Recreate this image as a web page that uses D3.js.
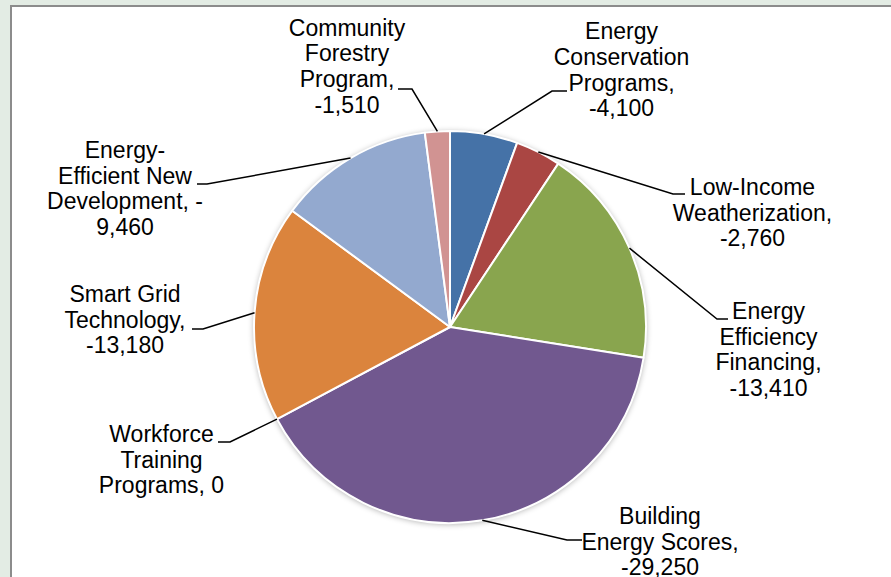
<!DOCTYPE html>
<html>
<head>
<meta charset="utf-8">
<script src="https://cdn.jsdelivr.net/npm/d3@7"></script>
<style>
  html, body { margin: 0; padding: 0; background: #e3ece4; }
  svg { display: block; }
</style>
</head>
<body>
<svg id="chart" width="891" height="577"></svg>
<script>
// ---- data ----
const categories = [
  "Energy Conservation Programs",
  "Low-Income Weatherization",
  "Energy Efficiency Financing",
  "Building Energy Scores",
  "Workforce Training Programs",
  "Smart Grid Technology",
  "Energy-Efficient New Development",
  "Community Forestry Program"
];
const values = [-4100, -2760, -13410, -29250, 0, -13180, -9460, -1510];
const colors = ["#4572a7", "#aa4643", "#89a54e", "#71588f", "#4198af", "#db843d", "#93a9cf", "#d19392"];

// label line breaks (text as wrapped in the original)
const labelNameLines = [
  ["Energy", "Conservation", "Programs"],
  ["Low-Income", "Weatherization"],
  ["Energy", "Efficiency", "Financing"],
  ["Building", "Energy Scores"],
  ["Workforce", "Training", "Programs"],
  ["Smart Grid", "Technology"],
  ["Energy-", "Efficient New", "Development"],
  ["Community", "Forestry", "Program"]
];
const labelWrap = ["newline", "newline", "newline", "newline", "inline", "newline", "split", "newline"];

// ---- layout (positions only) ----
const W = 891, H = 577;
const cx = 450, cy = 327, R = 196;
const lineH = 25.7;
const labelLayout = [
  { x: 621.5, y: 39.3, elbow: [552, 91], tail: [567, 91] },
  { x: 752.5, y: 195,  elbow: [673, 194], tail: [685, 194] },
  { x: 768.5, y: 319,  elbow: [717, 319], tail: [728, 319] },
  { x: 660,   y: 524,  elbow: [567, 540], tail: [582, 540] },
  { x: 161.5, y: 442,  elbow: [230, 442], tail: [218, 442] },
  { x: 125,   y: 302,  elbow: [203, 329], tail: [192, 329] },
  { x: 125,   y: 158,  elbow: [207, 184], tail: [197, 184] },
  { x: 347,   y: 35.5, elbow: [412, 89],  tail: [398, 89] }
];

const fmt = d3.formatLocale({ decimal: ".", thousands: ",", grouping: [3], currency: ["$", ""], minus: "-" }).format(",");

const svg = d3.select("#chart");

// defs: soft shadow
const defs = svg.append("defs");
const f = defs.append("filter").attr("id", "shadow").attr("x", "-20%").attr("y", "-20%").attr("width", "140%").attr("height", "140%");
f.append("feGaussianBlur").attr("in", "SourceAlpha").attr("stdDeviation", 3).attr("result", "blur");
f.append("feOffset").attr("in", "blur").attr("dx", 0).attr("dy", 1).attr("result", "off");
f.append("feComponentTransfer").attr("in", "off").attr("result", "soft")
  .append("feFuncA").attr("type", "linear").attr("slope", 0.35);
const merge = f.append("feMerge");
merge.append("feMergeNode").attr("in", "soft");
merge.append("feMergeNode").attr("in", "SourceGraphic");

// chart frame
svg.append("rect")
  .attr("x", 11).attr("y", 6).attr("width", W).attr("height", H)
  .attr("fill", "#ffffff").attr("stroke", "#8c8c8c").attr("stroke-width", 2);

const data = categories.map((c, i) => ({ name: c, value: values[i], color: colors[i], i }));

const pie = d3.pie().sort(null).value(d => Math.abs(d.value));
const arcs = pie(data);
const arc = d3.arc().innerRadius(0).outerRadius(R);
const edgeArc = d3.arc().innerRadius(R).outerRadius(R);

const g = svg.append("g").attr("transform", `translate(${cx},${cy})`);

// shadow base
g.append("circle").attr("r", R).attr("fill", "#ffffff").attr("filter", "url(#shadow)");

g.selectAll("path.slice")
  .data(arcs.filter(a => a.endAngle > a.startAngle))
  .join("path")
  .attr("class", "slice")
  .attr("d", arc)
  .attr("fill", d => d.data.color)
  .attr("stroke", "#ffffff")
  .attr("stroke-width", 2)
  .attr("stroke-linejoin", "round");

// leader lines
const leaders = svg.append("g");
arcs.forEach(a => {
  const L = labelLayout[a.data.i];
  const c = edgeArc.centroid(a);
  const p0 = [cx + c[0], cy + c[1]];
  leaders.append("polyline")
    .attr("points", [p0, L.elbow, L.tail].map(p => p.join(",")).join(" "))
    .attr("fill", "none")
    .attr("stroke", "#000000")
    .attr("stroke-width", 1.5);
});

// labels
const labels = svg.append("g")
  .attr("font-family", "'Liberation Sans', Arial, sans-serif")
  .attr("font-size", 23)
  .attr("fill", "#000000")
  .attr("text-anchor", "middle");

data.forEach(d => {
  const names = labelNameLines[d.i].slice();
  const v = fmt(d.value);
  let lines;
  const mode = labelWrap[d.i];
  if (mode === "inline") {
    names[names.length - 1] = names[names.length - 1] + ", " + v;
    lines = names;
  } else if (mode === "split" && v.startsWith("-")) {
    names[names.length - 1] = names[names.length - 1] + ", -";
    lines = names.concat([v.slice(1)]);
  } else {
    names[names.length - 1] = names[names.length - 1] + ",";
    lines = names.concat([v]);
  }
  const L = labelLayout[d.i];
  const t = labels.append("text").attr("x", L.x).attr("y", L.y);
  lines.forEach((ln, k) => {
    t.append("tspan").attr("x", L.x).attr("y", L.y + k * lineH).text(ln);
  });
});
</script>
</body>
</html>
